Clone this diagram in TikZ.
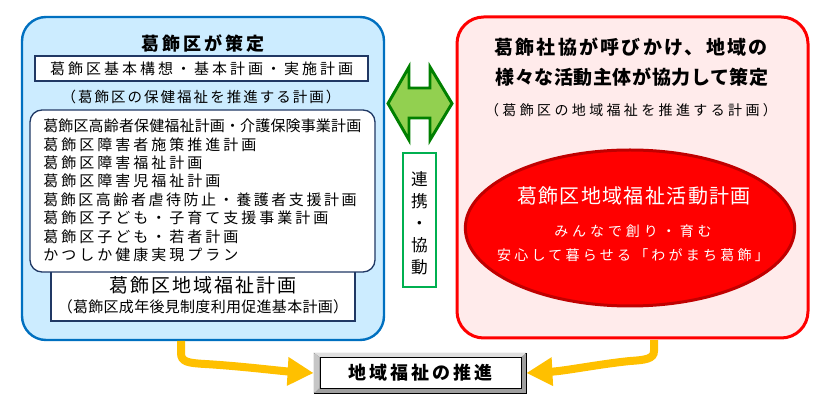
\documentclass[tikz,border=0pt]{standalone}
\usepackage{fontspec}
\setmainfont{Noto Sans CJK JP}
\usetikzlibrary{shapes.geometric,arrows.meta,fit,positioning}

% font size in px, tracking in percent of the size
\newcommand\fsz[1]{\fontsize{\fpeval{0.75*#1}pt}{\fpeval{0.9*#1}pt}\selectfont}
\newcommand\jpf[2]{\fsz{#1}\addfontfeature{LetterSpace=#2}}

\definecolor{cityblue}{HTML}{0070C0}
\definecolor{cityfill}{HTML}{CCECFF}
\definecolor{navy}{HTML}{203864}
\definecolor{shakyofill}{HTML}{FFEBEB}
\definecolor{planred}{HTML}{C00000}
\definecolor{linkgreen}{HTML}{008000}
\definecolor{linkfill}{HTML}{92D050}
\definecolor{boxgreen}{HTML}{00B050}
\definecolor{pushyellow}{HTML}{FFC000}

\begin{document}
\begin{tikzpicture}[
    x=0.75pt, y=-0.75pt,
    citybox/.style={draw=cityblue, line width=1.8pt, fill=cityfill, rounded corners=18pt, inner sep=0pt},
    shakyobox/.style={draw=red, line width=2.25pt, fill=shakyofill, rounded corners=20pt, inner sep=0pt},
    planbox/.style={draw=navy, line width=1pt, fill=white, inner sep=0pt},
    listbox/.style={planbox, rounded corners=9pt},
    txt/.style={inner sep=0pt},
    item/.style={txt, anchor=west, font=\jpf{15}{20}},
    headline/.style={txt, font=\bfseries\jpf{18}{17}},
    white/.style={txt, text=white},
    linkarrow/.style={draw=linkgreen, fill=linkfill, line width=2.2pt, line join=miter},
    push/.style={draw=pushyellow, line width=6pt, -{Triangle[width=20.25pt, length=19.5pt]}}
]
    \useasboundingbox (0,0) rectangle (839,402);

    % city plans
    \node[citybox, fit={(22,17) (384,340)}] (city) {};
    \node[headline] (cityhead) at (203,43.5) {葛飾区が策定};
    \node[planbox, minimum width=249.75pt, minimum height=18.75pt, font=\jpf{15}{20}] (basic) at (201.5,68.5) {葛飾区基本構想・基本計画・実施計画};
    \node[txt, font=\jpf{14.5}{14}] (basicsub) at (201,96.5) {（葛飾区の保健福祉を推進する計画）};
    \node[planbox, fit={(51,255) (355,321)}] (wplan) {};
    \node[listbox, fit={(30,110) (375,272)}] (plans) {};
    \node[item, font=\jpf{15}{1}] (item1) at (43,126) {葛飾区高齢者保健福祉計画・介護保険事業計画};
    \node[item] (item2) at (43,144.4) {葛飾区障害者施策推進計画};
    \node[item] (item3) at (43,162.8) {葛飾区障害福祉計画};
    \node[item] (item4) at (43,181.2) {葛飾区障害児福祉計画};
    \node[item, font=\jpf{15}{17}] (item5) at (43,199.6) {葛飾区高齢者虐待防止・養護者支援計画};
    \node[item] (item6) at (43,218) {葛飾区子ども・子育て支援事業計画};
    \node[item] (item7) at (43,236.4) {葛飾区子ども・若者計画};
    \node[item] (item8) at (43,254.8) {かつしか健康実現プラン};
    \node[txt, font=\jpf{19}{10}] (wplanname) at (203,285.5) {葛飾区地域福祉計画};
    \node[txt, font=\jpf{15}{2}] (wplansub) at (203,307) {（葛飾区成年後見制度利用促進基本計画）};

    % link between both sides
    \coordinate (link) at (420,103.5);
    \path[linkarrow] (link) ++(-32,0) -- ++(21,-36.5) -- ++(0,21) -- ++(21,0) -- ++(0,-21)
        -- ++(22,36.5) -- ++(-22,36.5) -- ++(0,-22) -- ++(-21,0) -- ++(0,22) -- cycle;
    \node[draw=boxgreen, line width=1.5pt, fit={(403,153) (436,287)}, inner sep=0pt] (renkei) {};
    \node[txt, align=center, font=\fontsize{12.5pt}{16.5pt}\selectfont] (renkeitext) at (419.5,223.5) {連\\携\\・\\協\\動};

    % shakyo plan
    \node[shakyobox, fit={(457,17) (808,338)}] (shakyo) {};
    \node[headline, font=\bfseries\jpf{19}{12}] (shakyohead1) at (631,47.5) {葛飾社協が呼びかけ、地域の};
    \node[headline, font=\bfseries\jpf{19}{3}] (shakyohead2) at (632,77.5) {様々な活動主体が協力して策定};
    \node[txt, font=\jpf{14}{24}] (shakyosub) at (631,110) {（葛飾区の地域福祉を推進する計画）};
    \node[ellipse, draw=planred, fill=red, line width=2.25pt, minimum width=247pt, minimum height=117pt] (actplan) at (630,228) {};
    \node[white, font=\jpf{20}{7}] (actname) at (634,196) {葛飾区地域福祉活動計画};
    \node[white, font=\jpf{14}{28}] (actline1) at (633,231.5) {みんなで創り・育む};
    \node[white, font=\jpf{14}{23}] (actline2) at (633,255) {安心して暮らせる「わがまち葛飾」};

    % goal
    \node[draw=black, line width=0.6pt, fill=gray!75, inner sep=0pt, fit={(314,353) (526,393)}] (goalrim) {};
    \fill[gray!25] (goalrim.north west) -- (goalrim.north east) -- ++(-5.5,4.5) -- ++(-201,0) -- cycle;
    \fill[gray!45] (goalrim.north west) -- ++(5.5,4.5) -- ++(0,31) -- (goalrim.south west) -- cycle;
    \node[draw=black, line width=0.6pt, fill=white, minimum width=150.75pt, minimum height=23.25pt,
        font=\bfseries\jpf{18}{17}] (goal) at (420.5,372.5) {地域福祉の推進};

    \coordinate (citydown) at (181,341);
    \coordinate (shakyodown) at (654,340);
    \draw[push] (citydown) -- (181,353) .. controls (181,362) and (188,363) .. (205,364)
        .. controls (240,366) and (280,371) .. (goalrim.west);
    \draw[push] (shakyodown) -- (654,351) .. controls (654,359) and (645,360) .. (630,361)
        .. controls (600,364) and (565,371) .. (goalrim.east);
\end{tikzpicture}
\end{document}
